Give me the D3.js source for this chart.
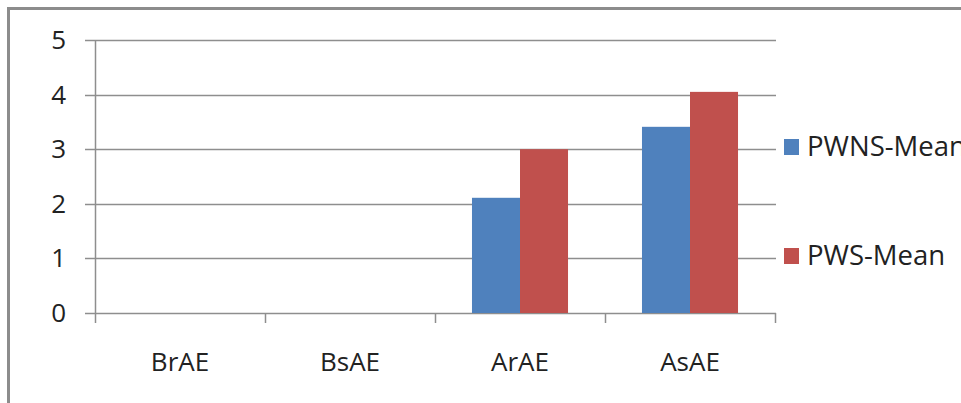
<!DOCTYPE html>
<html>
<head>
<meta charset="utf-8">
<script src="https://cdn.jsdelivr.net/npm/d3@7"></script>
<style>
  body { margin: 0; background: #fff; }
  svg { display: block; font-family: "Open Sans", sans-serif; }
</style>
</head>
<body>
<div id="chart"></div>
<script>
// chart values
const categories = ["BrAE", "BsAE", "ArAE", "AsAE"];
const seriesNames = ["PWNS-Mean", "PWS-Mean"];
const pwnsMean = [0, 0, 2.11, 3.41];
const pwsMean = [0, 0, 3.0, 4.05];
const yTicks = [0, 1, 2, 3, 4, 5];
const colors = ["#4f81bd", "#c0504d"];

const W = 961, H = 403;
const plot = { left: 95, right: 775, top: 40, bottom: 313 };

const svg = d3.select("#chart").append("svg")
    .attr("width", W).attr("height", H);

// outer frame (only top and left edges are visible in the window)
svg.append("rect")
    .attr("x", 8.5).attr("y", 8.5)
    .attr("width", W + 20).attr("height", H + 20)
    .attr("fill", "none")
    .attr("stroke", "#8c8c8c")
    .attr("stroke-width", 3);

const x = d3.scaleBand()
    .domain(categories)
    .range([plot.left, plot.right])
    .paddingInner(0).paddingOuter(0);

// bars inside each category: Excel style gap width ~150%
const xs = d3.scaleBand()
    .domain(seriesNames)
    .range([0, x.bandwidth()])
    .paddingOuter(0.77).paddingInner(0);

const y = d3.scaleLinear()
    .domain([0, 5])
    .range([plot.bottom, plot.top]);

// gridlines
svg.append("g")
    .selectAll("line")
    .data(yTicks)
    .join("line")
    .attr("x1", plot.left - 10).attr("x2", plot.right + 1)
    .attr("y1", d => Math.round(y(d)) + 0.5)
    .attr("y2", d => Math.round(y(d)) + 0.5)
    .attr("stroke", "#8e8e8e")
    .attr("stroke-width", 1.5);

// y axis line
svg.append("line")
    .attr("x1", plot.left + 0.5).attr("x2", plot.left + 0.5)
    .attr("y1", plot.top).attr("y2", plot.bottom + 10)
    .attr("stroke", "#8e8e8e").attr("stroke-width", 1.5);

// y tick labels
svg.append("g")
    .selectAll("text")
    .data(yTicks)
    .join("text")
    .attr("x", 66)
    .attr("y", d => y(d) + 9)
    .attr("text-anchor", "end")
    .attr("font-size", 26)
    .attr("fill", "#222")
    .text(d => d);

// category ticks
const tickXs = categories.map(c => x(c)).concat([x(categories[categories.length - 1]) + x.bandwidth()]);
svg.append("g")
    .selectAll("line")
    .data(tickXs.slice(1))
    .join("line")
    .attr("x1", d => d + 0.5).attr("x2", d => d + 0.5)
    .attr("y1", plot.bottom).attr("y2", plot.bottom + 10)
    .attr("stroke", "#8e8e8e").attr("stroke-width", 1.5);

// category labels
svg.append("g")
    .selectAll("text")
    .data(categories)
    .join("text")
    .attr("x", d => x(d) + x.bandwidth() / 2)
    .attr("y", 371)
    .attr("text-anchor", "middle")
    .attr("font-size", 26)
    .attr("fill", "#222")
    .text(d => d);

// bars
const rows = categories.map((c, i) => ({ cat: c, vals: [pwnsMean[i], pwsMean[i]] }));
const groups = svg.append("g")
    .selectAll("g")
    .data(rows)
    .join("g")
    .attr("transform", d => `translate(${x(d.cat)},0)`);

groups.selectAll("rect")
    .data(d => d.vals.map((v, j) => ({ name: seriesNames[j], v, j })))
    .join("rect")
    .filter(d => d.v > 0)
    .attr("x", d => xs(d.name))
    .attr("width", xs.bandwidth())
    .attr("y", d => y(d.v))
    .attr("height", d => plot.bottom - y(d.v))
    .attr("fill", d => colors[d.j]);

// legend
const legend = svg.append("g")
    .selectAll("g")
    .data(seriesNames)
    .join("g")
    .attr("transform", (d, i) => `translate(784,${139 + i * 109})`);

legend.append("rect")
    .attr("width", 15).attr("height", 16)
    .attr("fill", (d, i) => colors[i]);

legend.append("text")
    .attr("x", 23).attr("y", 17)
    .attr("font-size", 27.5)
    .attr("fill", "#222")
    .text(d => d);
</script>
</body>
</html>
